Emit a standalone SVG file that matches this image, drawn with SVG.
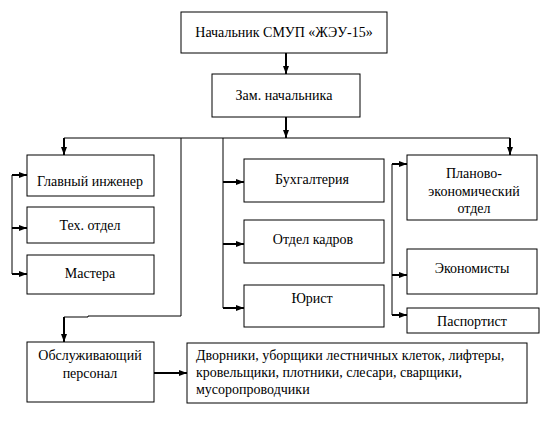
<svg xmlns="http://www.w3.org/2000/svg" width="551" height="445" viewBox="0 0 551 445">
<style>
.box{fill:#fff;stroke:#000;stroke-width:1}
.ln{fill:none;stroke:#000;stroke-width:1}
.ar{fill:none;stroke:#000;stroke-width:2;marker-end:url(#ah)}
</style>
<defs>
<marker id="ah" viewBox="0 0 8 8" refX="8" refY="4" markerWidth="8" markerHeight="8" markerUnits="userSpaceOnUse" orient="auto">
<path d="M0,1 L8,4 L0,7 z" fill="#000"/>
</marker>
</defs>
<rect width="551" height="445" fill="#fff"/>
<g id="connectors">
<line class="ar" x1="286" y1="53" x2="286" y2="74"/>
<line class="ar" x1="286" y1="117" x2="286" y2="138"/>
<line class="ln" x1="64" y1="138" x2="510" y2="138"/>
<line class="ar" x1="64" y1="138" x2="64" y2="155"/>
<line class="ar" x1="510" y1="138" x2="510" y2="155"/>
<line class="ln" x1="12" y1="175" x2="12" y2="274"/>
<line class="ar" x1="12" y1="175" x2="27" y2="175"/>
<line class="ar" x1="12" y1="228" x2="27" y2="228"/>
<line class="ar" x1="12" y1="274" x2="27" y2="274"/>
<line class="ln" x1="223" y1="138" x2="223" y2="308"/>
<line class="ar" x1="223" y1="182" x2="244" y2="182"/>
<line class="ar" x1="223" y1="244" x2="244" y2="244"/>
<line class="ar" x1="223" y1="308" x2="244" y2="308"/>
<polyline class="ln" points="181,138 181,316 88,316 88,317 64,317"/>
<line class="ar" x1="64" y1="317" x2="64" y2="342"/>
<line class="ln" x1="392" y1="164" x2="392" y2="315"/>
<line class="ar" x1="392" y1="164" x2="407" y2="164"/>
<line class="ar" x1="392" y1="275" x2="407" y2="275"/>
<line class="ar" x1="392" y1="315" x2="407" y2="315"/>
<line class="ar" x1="154" y1="373" x2="187" y2="373"/>
</g>
<g id="nodes" font-family="Liberation Serif, serif" font-size="14" fill="#000" text-anchor="middle">
<g id="n-head"><rect class="box" x="181" y="12" width="206" height="41"/><text x="284" y="37">Начальник СМУП «ЖЭУ-15»</text></g>
<g id="n-deputy"><rect class="box" x="212" y="74" width="148" height="43"/><text x="284" y="100">Зам. начальника</text></g>
<g id="n-chief-eng"><rect class="box" x="27" y="155" width="127" height="41"/><text x="90" y="186">Главный инженер</text></g>
<g id="n-tech"><rect class="box" x="27" y="207" width="127" height="36"/><text x="90" y="230">Тех. отдел</text></g>
<g id="n-masters"><rect class="box" x="27" y="255" width="127" height="39"/><text x="90" y="278">Мастера</text></g>
<g id="n-account"><rect class="box" x="244" y="159" width="140" height="43"/><text x="312" y="184">Бухгалтерия</text></g>
<g id="n-hr"><rect class="box" x="244" y="220" width="140" height="43"/><text x="313" y="244">Отдел кадров</text></g>
<g id="n-lawyer"><rect class="box" x="244" y="285" width="140" height="42"/><text x="312" y="303">Юрист</text></g>
<g id="n-plan"><rect class="box" x="407" y="155" width="130" height="65"/><text x="474" y="178">Планово-</text><text x="474" y="196">экономический</text><text x="474" y="213">отдел</text></g>
<g id="n-econ"><rect class="box" x="407" y="249" width="130" height="45"/><text x="472" y="273">Экономисты</text></g>
<g id="n-passport"><rect class="box" x="407" y="308" width="132" height="25"/><text x="472" y="326">Паспортист</text></g>
<g id="n-service"><rect class="box" x="27" y="342" width="127" height="60"/><text x="90" y="360">Обслуживающий</text><text x="90" y="378">персонал</text></g>
<g id="n-workers" text-anchor="start"><rect class="box" x="187" y="343" width="340" height="60"/><text x="196" y="360">Дворники, уборщики лестничных клеток, лифтеры,</text><text x="196" y="377">кровельщики, плотники, слесари, сварщики,</text><text x="196" y="394">мусоропроводчики</text></g>
</g>
</svg>
